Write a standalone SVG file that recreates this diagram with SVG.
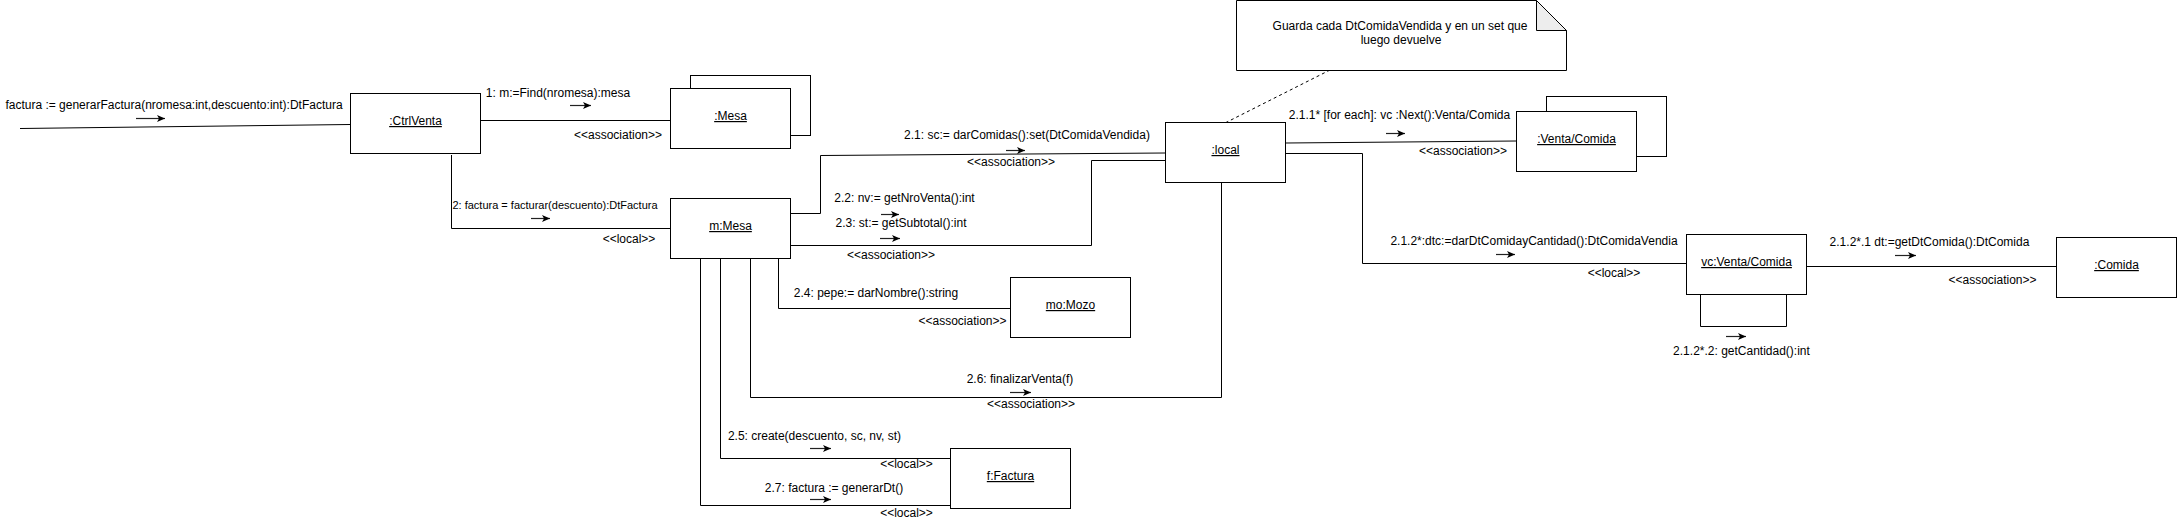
<svg xmlns="http://www.w3.org/2000/svg" width="2177" height="528" viewBox="0 0 2177 528">
<defs>
<style>
.box{fill:#fff;stroke:#000;stroke-width:1}
.ln{fill:none;stroke:#000;stroke-width:1}
.dash{fill:none;stroke:#000;stroke-width:1;stroke-dasharray:3 3}
.arw{fill:none;stroke:#222;stroke-width:1.2;marker-end:url(#ah)}
text{font-family:"Liberation Sans",Arial,Helvetica,sans-serif;font-size:12px;fill:#000}
.c{text-anchor:middle}
.s{font-size:11px}
.u{text-anchor:middle;text-decoration:underline}
</style>
<marker id="ah" markerUnits="userSpaceOnUse" markerWidth="10" markerHeight="8" refX="8" refY="3.5" orient="auto">
<path d="M0,0 L8,3.5 L0,7 L2,3.5 Z" fill="#000"/>
</marker>
</defs>
<rect width="2177" height="528" fill="#fff"/>

<g id="connectors">
<path class="ln" d="M20,128.5 L350,124.5"/>
<path class="ln" d="M480,120.5 L670,120.5"/>
<path class="ln" d="M451.5,155 L451.5,228.5 L670,228.5"/>
<path class="ln" d="M790,213.5 L820.5,213.5 L820.5,155.5 L1165,153"/>
<path class="ln" d="M790,245.5 L1091.5,245.5 L1091.5,160.5 L1165,160.5"/>
<path class="ln" d="M778.5,258 L778.5,308.5 L1010,308.5"/>
<path class="ln" d="M750.5,258 L750.5,397.5 L1221.5,397.5 L1221.5,182"/>
<path class="ln" d="M720.5,258 L720.5,458.5 L950,458.5"/>
<path class="ln" d="M700.5,258 L700.5,505.5 L950,505.5"/>
<path class="dash" d="M1330,70 L1225,123"/>
<path class="ln" d="M1286,143 L1516,141"/>
<path class="ln" d="M1286,153.5 L1362.5,153.5 L1362.5,263.5 L1686,263.5"/>
<path class="ln" d="M1700.5,294 L1700.5,326.5 L1786.5,326.5 L1786.5,294"/>
<path class="ln" d="M1806,266.5 L2056,266.5"/>

<path class="arw" d="M136,118.5 L165,118.5"/>
<path class="arw" d="M570,105.5 L591,105.5"/>
<path class="arw" d="M531,218.5 L550,218.5"/>
<path class="arw" d="M1006,150.5 L1025,150.5"/>
<path class="arw" d="M881,214.5 L899,214.5"/>
<path class="arw" d="M880,238.5 L900,238.5"/>
<path class="arw" d="M1010,392.5 L1031,392.5"/>
<path class="arw" d="M810,448.5 L831,448.5"/>
<path class="arw" d="M810,499.5 L831,499.5"/>
<path class="arw" d="M1386,133.5 L1405,133.5"/>
<path class="arw" d="M1496,254.5 L1515,254.5"/>
<path class="arw" d="M1726,336.5 L1746,336.5"/>
<path class="arw" d="M1895,255.5 L1916,255.5"/>

<text class="c" x="174" y="109">factura := generarFactura(nromesa:int,descuento:int):DtFactura</text>
<text class="c" x="558" y="97">1: m:=Find(nromesa):mesa</text>
<text class="c" x="618" y="139">&lt;&lt;association&gt;&gt;</text>
<text class="c s" x="555" y="209">2: factura = facturar(descuento):DtFactura</text>
<text class="c" x="629" y="243">&lt;&lt;local&gt;&gt;</text>
<text class="c" x="1027" y="139">2.1: sc:= darComidas():set(DtComidaVendida)</text>
<text class="c" x="1011" y="166">&lt;&lt;association&gt;&gt;</text>
<text class="c" x="904.5" y="202">2.2: nv:= getNroVenta():int</text>
<text class="c" x="901" y="227">2.3: st:= getSubtotal():int</text>
<text class="c" x="891" y="259">&lt;&lt;association&gt;&gt;</text>
<text class="c" x="876" y="297">2.4: pepe:= darNombre():string</text>
<text class="c" x="962.5" y="325">&lt;&lt;association&gt;&gt;</text>
<text class="c" x="1020" y="383">2.6: finalizarVenta(f)</text>
<text class="c" x="1031" y="408">&lt;&lt;association&gt;&gt;</text>
<text class="c" x="814.5" y="440">2.5: create(descuento, sc, nv, st)</text>
<text class="c" x="906.5" y="468">&lt;&lt;local&gt;&gt;</text>
<text class="c" x="834" y="492">2.7: factura := generarDt()</text>
<text class="c" x="906.5" y="517">&lt;&lt;local&gt;&gt;</text>
<text class="c" x="1399.5" y="119">2.1.1* [for each]: vc :Next():Venta/Comida</text>
<text class="c" x="1463" y="155">&lt;&lt;association&gt;&gt;</text>
<text class="c" x="1534" y="245">2.1.2*:dtc:=darDtComidayCantidad():DtComidaVendia</text>
<text class="c" x="1614" y="277">&lt;&lt;local&gt;&gt;</text>
<text class="c" x="1741.5" y="355">2.1.2*.2: getCantidad():int</text>
<text class="c" x="1929.5" y="246">2.1.2*.1 dt:=getDtComida():DtComida</text>
<text class="c" x="1992.5" y="284">&lt;&lt;association&gt;&gt;</text>
</g>

<g id="note">
<path class="box" d="M1236.5,0.5 L1536.5,0.5 L1566.5,30.5 L1566.5,70.5 L1236.5,70.5 Z"/>
<path d="M1536.5,0.5 L1536.5,30.5 L1566.5,30.5 Z" fill="#ededed" stroke="#000" stroke-width="1"/>
<text class="c" x="1400" y="29.5">Guarda cada DtComidaVendida y en un set que</text>
<text class="c" x="1401" y="44">luego devuelve</text>
</g>

<g id="ctrlventa">
<rect class="box" x="350.5" y="93.5" width="130" height="60"/>
<text class="u" x="415.5" y="125">:CtrlVenta</text>
</g>

<g id="mesa-multi">
<rect class="box" x="690.5" y="75.5" width="120" height="60"/>
<rect class="box" x="670.5" y="88.5" width="120" height="60"/>
<text class="u" x="730.5" y="120">:Mesa</text>
</g>

<g id="m-mesa">
<rect class="box" x="670.5" y="198.5" width="120" height="60"/>
<text class="u" x="730.5" y="230">m:Mesa</text>
</g>

<g id="mo-mozo">
<rect class="box" x="1010.5" y="277.5" width="120" height="60"/>
<text class="u" x="1070.5" y="309">mo:Mozo</text>
</g>

<g id="f-factura">
<rect class="box" x="950.5" y="448.5" width="120" height="60"/>
<text class="u" x="1010.5" y="480">f:Factura</text>
</g>

<g id="local">
<rect class="box" x="1165.5" y="122.5" width="120" height="60"/>
<text class="u" x="1225.5" y="154">:local</text>
</g>

<g id="venta-comida-multi">
<rect class="box" x="1546.5" y="96.5" width="120" height="60"/>
<rect class="box" x="1516.5" y="111.5" width="120" height="60"/>
<text class="u" x="1576.5" y="143">:Venta/Comida</text>
</g>

<g id="vc-venta-comida">
<rect class="box" x="1686.5" y="234.5" width="120" height="60"/>
<text class="u" x="1746.5" y="266">vc:Venta/Comida</text>
</g>

<g id="comida">
<rect class="box" x="2056.5" y="237.5" width="120" height="60"/>
<text class="u" x="2116.5" y="269">:Comida</text>
</g>
</svg>
